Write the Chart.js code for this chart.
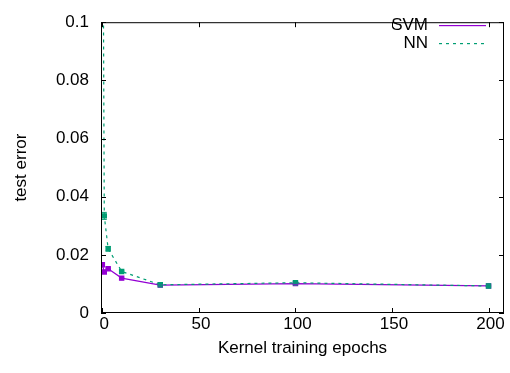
<!DOCTYPE html>
<html>
<head>
<meta charset="utf-8">
<script src="https://cdn.jsdelivr.net/npm/chart.js@4.4.0/dist/chart.umd.min.js"></script>
<style>
  body { margin: 0; background: #fff; }
  #wrap { width: 510px; height: 373px; }
</style>
</head>
<body>
<div id="wrap"><canvas id="chart" width="510" height="373"></canvas></div>
<script>
// values
const epochs = [0, 1, 3, 10, 30, 100, 200];
const svmErr = [0.0166, 0.0141, 0.0152, 0.0120, 0.0096, 0.0101, 0.0093];
const svmDev = [0.0005, 0.0003, 0.0003, 0.0002, 0.0002, 0.0002, 0.0002];
const nnErr = [0.2, 0.0334, 0.0221, 0.0143, 0.0097, 0.0104, 0.0093];
const nnDev = [0.0, 0.0012, 0.0008, 0.0003, 0.0002, 0.0002, 0.0002];
const xTicks = [0, 50, 100, 150, 200];
const yTicks = [0, 0.02, 0.04, 0.06, 0.08, 0.1];

const FONT = 'Liberation Sans, Arial, sans-serif';
const svmColor = '#9400d3';
const nnColor = '#009e73';
const keyColors = [svmColor, nnColor];
const keyDash = [[], [3, 4]];

const toPoints = (ys) => epochs.map((x, i) => ({ x: x, y: ys[i] }));

// error bars with small caps, drawn through the scales
const errorBars = {
  id: 'errorBars',
  afterDatasetsDraw(chart) {
    const { ctx, chartArea, scales } = chart;
    ctx.save();
    ctx.beginPath();
    ctx.rect(chartArea.left, chartArea.top, chartArea.right - chartArea.left, chartArea.bottom - chartArea.top);
    ctx.clip();
    chart.data.datasets.forEach((ds, k) => {
      ctx.strokeStyle = keyColors[k];
      ctx.lineWidth = 1;
      ds.data.forEach((p, i) => {
        const d = ds.errors[i];
        if (!d) return;
        const px = scales.x.getPixelForValue(p.x);
        const y1 = scales.y.getPixelForValue(p.y - d);
        const y2 = scales.y.getPixelForValue(p.y + d);
        ctx.beginPath();
        ctx.moveTo(px, y1); ctx.lineTo(px, y2);
        ctx.moveTo(px - 2.5, y1); ctx.lineTo(px + 2.5, y1);
        ctx.moveTo(px - 2.5, y2); ctx.lineTo(px + 2.5, y2);
        ctx.stroke();
      });
    });
    ctx.restore();
  }
};

// gnuplot style frame with inward ticks on all sides
const frame = {
  id: 'frame',
  afterDraw(chart) {
    const { ctx, chartArea: a, scales } = chart;
    ctx.save();
    ctx.strokeStyle = '#000';
    ctx.lineWidth = 1;
    ctx.setLineDash([]);
    ctx.strokeRect(a.left + 0.5, a.top + 0.5, a.right - a.left - 1, a.bottom - a.top - 1);
    ctx.beginPath();
    xTicks.forEach((v) => {
      const px = Math.round(scales.x.getPixelForValue(v)) + 0.5;
      ctx.moveTo(px, a.bottom); ctx.lineTo(px, a.bottom - 5);
      ctx.moveTo(px, a.top); ctx.lineTo(px, a.top + 5);
    });
    yTicks.forEach((v) => {
      const py = Math.round(scales.y.getPixelForValue(v)) + 0.5;
      ctx.moveTo(a.left, py); ctx.lineTo(a.left + 5, py);
      ctx.moveTo(a.right, py); ctx.lineTo(a.right - 5, py);
    });
    ctx.stroke();
    ctx.restore();
  }
};

// the key, top right inside the frame
const key = {
  id: 'key',
  afterDraw(chart) {
    const ctx = chart.ctx;
    ctx.save();
    ctx.font = '17px ' + FONT;
    ctx.textAlign = 'right';
    ctx.textBaseline = 'middle';
    chart.data.datasets.forEach((ds, i) => {
      const y = 25 + i * 18;
      ctx.fillStyle = '#000';
      ctx.fillText(ds.label, 428, y);
      ctx.fillStyle = keyColors[i];
      if (keyDash[i].length) {
        for (let x = 439; x < 486; x += 7) ctx.fillRect(x, y, 3, 1.2);
      } else {
        ctx.fillRect(439, y, 47, 1.2);
      }
    });
    ctx.restore();
  }
};

new Chart(document.getElementById('chart'), {
  type: 'line',
  data: {
    datasets: [
      {
        label: 'SVM',
        data: toPoints(svmErr),
        errors: svmDev,
        borderColor: svmColor,
        backgroundColor: svmColor,
        borderWidth: 1.2,
        pointStyle: 'rect',
        pointRadius: 3,
        order: 1,
      },
      {
        label: 'NN',
        data: toPoints(nnErr),
        errors: nnDev,
        borderColor: nnColor,
        backgroundColor: nnColor,
        borderWidth: 1.2,
        borderDash: keyDash[1],
        pointStyle: 'rect',
        pointRadius: 3,
        order: 0,
      },
    ],
  },
  options: {
    responsive: false,
    animation: false,
    layout: { padding: { top: 13, right: 6, left: 0, bottom: 0 } },
    plugins: { legend: { display: false }, tooltip: { enabled: false } },
    scales: {
      x: {
        type: 'linear',
        min: -0.7,
        max: 208,
        afterFit: (s) => { s.height = 60; },
        afterBuildTicks: (s) => { s.ticks = xTicks.map((v) => ({ value: v })); },
        grid: { display: false, drawTicks: false },
        border: { display: false },
        ticks: { color: '#000', font: { family: FONT, size: 17 }, padding: 1, labelOffset: 2, maxRotation: 0 },
        title: { display: true, text: 'Kernel training epochs', color: '#000', font: { family: FONT, size: 17 }, padding: { top: 0, bottom: 14 } },
      },
      y: {
        type: 'linear',
        min: 0,
        max: 0.1,
        afterFit: (s) => { s.width = 101; },
        afterBuildTicks: (s) => { s.ticks = yTicks.map((v) => ({ value: v })); },
        grid: { display: false, drawTicks: false },
        border: { display: false },
        ticks: { color: '#000', font: { family: FONT, size: 17 }, padding: 12, callback: (v) => String(+v.toFixed(2)) },
        title: { display: true, text: 'test error', color: '#000', font: { family: FONT, size: 17 }, padding: { top: 11, bottom: 0 } },
      },
    },
  },
  plugins: [errorBars, frame, key],
});
</script>
</body>
</html>
